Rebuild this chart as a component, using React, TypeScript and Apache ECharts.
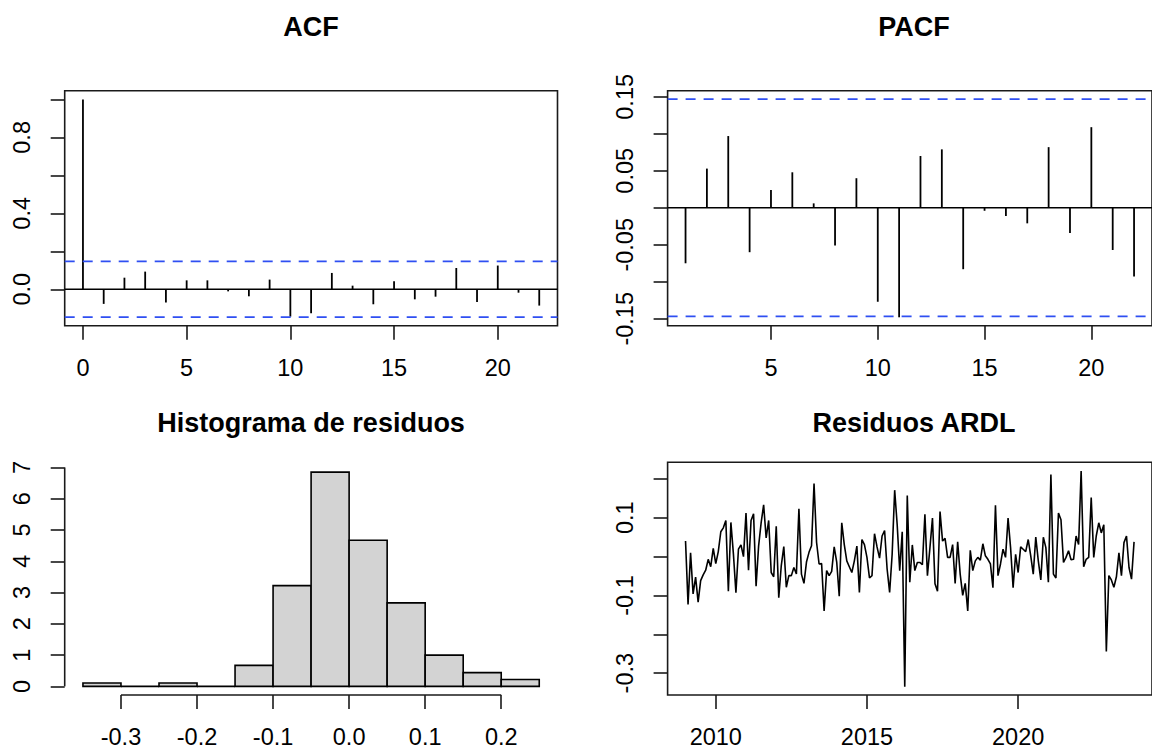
import React, { useEffect, useRef } from "react";
import * as echarts from "echarts";

// ---------- data ----------
const acfLags = [0, 1, 2, 3, 4, 5, 6, 7, 8, 9, 10, 11, 12, 13, 14, 15, 16, 17, 18, 19, 20, 21, 22];
const acfValues = [1.0, -0.077, 0.061, 0.093, -0.07, 0.047, 0.047, -0.011, -0.037, 0.051, -0.144, -0.126,
  0.086, 0.019, -0.079, 0.042, -0.053, -0.039, 0.112, -0.067, 0.125, -0.018, -0.086];
const acfCI = 0.1465;

const pacfLags = [1, 2, 3, 4, 5, 6, 7, 8, 9, 10, 11, 12, 13, 14, 15, 16, 17, 18, 19, 20, 21, 22];
const pacfValues = [-0.075, 0.053, 0.097, -0.06, 0.024, 0.048, 0.006, -0.051, 0.04, -0.127, -0.148, 0.07,
  0.079, -0.083, -0.004, -0.011, -0.021, 0.082, -0.034, 0.109, -0.057, -0.093];
const pacfCI = 0.1468;

const histBreaks = [-0.35, -0.3, -0.25, -0.2, -0.15, -0.1, -0.05, 0.0, 0.05, 0.1, 0.15, 0.2, 0.25];
const histDensity = [0.11, 0, 0.11, 0, 0.67, 3.22, 6.85, 4.67, 2.67, 1.0, 0.44, 0.22];

const residStartYear = 2009;
const residStartMonth = 1;
const residValues = [
  0.040, -0.123, 0.010, -0.096, -0.053, -0.117, -0.062, -0.047, -0.035, -0.007,
  -0.026, 0.021, -0.018, 0.013, 0.064, 0.074, 0.093, -0.089, 0.088, 0.007,
  -0.093, 0.019, 0.030, 0.000, 0.112, -0.035, 0.093, 0.110, -0.076, 0.027,
  0.087, 0.133, 0.048, 0.093, -0.041, -0.052, 0.078, -0.106, -0.023, 0.026,
  -0.079, -0.049, -0.049, -0.028, -0.045, 0.123, -0.045, -0.069, -0.014, 0.011,
  0.028, 0.188, 0.037, -0.019, -0.018, -0.140, -0.036, -0.049, -0.038, 0.025,
  -0.014, -0.102, 0.087, 0.031, -0.011, -0.026, -0.041, -0.011, 0.027, -0.092,
  0.044, 0.031, -0.002, -0.055, -0.049, 0.059, 0.025, -0.004, 0.053, 0.067,
  -0.032, -0.092, 0.006, 0.171, 0.082, -0.036, 0.064, -0.335, 0.157, -0.066,
  0.030, -0.036, -0.015, -0.015, -0.021, 0.109, -0.049, 0.023, 0.099, -0.070,
  -0.089, 0.116, 0.040, 0.047, -0.002, -0.002, 0.031, -0.069, 0.038, -0.045,
  -0.100, -0.069, -0.140, 0.016, -0.036, -0.011, -0.002, -0.009, 0.033, 0.002,
  -0.007, -0.019, -0.080, 0.132, -0.049, -0.019, 0.019, -0.002, 0.099, 0.023,
  -0.080, 0.006, -0.041, 0.025, 0.019, 0.013, 0.044, 0.002, -0.045, 0.050,
  -0.011, -0.060, 0.050, 0.023, -0.066, 0.211, -0.045, -0.055, 0.112, 0.095,
  -0.015, -0.002, 0.015, -0.008, -0.007, 0.053, 0.031, 0.220, -0.026, -0.007,
  -0.002, 0.152, -0.002, 0.053, 0.087, 0.061, 0.082, -0.244, -0.049, -0.060,
  -0.079, -0.052, 0.010, -0.049, 0.036, 0.053, -0.028, -0.058, 0.038,
];

// tick / label values
const acfXTicks = [0, 5, 10, 15, 20];
const acfYTicks = [0, 0.2, 0.4, 0.6, 0.8, 1.0];
const acfYLabels = [0, 0.4, 0.8];
const pacfXTicks = [5, 10, 15, 20];
const pacfYTicks = [-0.15, -0.1, -0.05, 0, 0.05, 0.1, 0.15];
const pacfYLabels = [-0.15, -0.05, 0.05, 0.15];
const histXTicks = [-0.3, -0.2, -0.1, 0.0, 0.1, 0.2];
const histYTicks = [0, 1, 2, 3, 4, 5, 6, 7];
const residXTicks = [2010, 2015, 2020];
const residYTicks = [-0.3, -0.2, -0.1, 0, 0.1, 0.2];
const residYLabels = [-0.3, -0.1, 0.1];

const titles = ["ACF", "PACF", "Histograma de residuos", "Residuos ARDL"];

// ---------- styling / layout ----------
const FONT = "'Liberation Sans', Arial, Helvetica, sans-serif";
const INK = "#1a1a1a";
const LABEL_SIZE = 23.5;
const LEFT_X = 64.7;
const RIGHT_X = 667.6;
const PLOT_W = 492.8;
const TOP_Y = 90.7;
const TOP_H = 235.1;
const BOT_Y = 462.3;
const BOT_H = 235.4;

const ranges = {
  acfX: [-0.88, 22.88],
  acfY: [-0.1924, 1.0459],
  pacfX: [0.16, 22.84],
  pacfY: [-0.1595, 0.1583],
  histX: [-0.374, 0.274],
  histY: [-0.2756, 7.164],
  residX: [2008.407, 2024.427],
  residY: [-0.3562, 0.2427],
};

function xAxis(grid: number, r: number[], ticks: number[], labels: number[], fmt: (v: number) => string) {
  return {
    type: "value",
    gridIndex: grid,
    position: "bottom",
    min: r[0],
    max: r[1],
    axisLine: { show: false, onZero: false },
    splitLine: { show: false },
    axisTick: { show: true, customValues: ticks, length: 14, lineStyle: { color: INK, width: 1.6 } },
    axisLabel: {
      show: true,
      customValues: labels,
      formatter: (v: number) => fmt(v),
      margin: 30,
      color: "#000",
      fontSize: LABEL_SIZE,
      fontFamily: FONT,
    },
  };
}

function yAxis(grid: number, r: number[], ticks: number[], labels: number[], fmt: (v: number) => string) {
  return {
    type: "value",
    gridIndex: grid,
    position: "left",
    min: r[0],
    max: r[1],
    axisLine: { show: false, onZero: false },
    splitLine: { show: false },
    axisTick: { show: true, customValues: ticks, length: 14, lineStyle: { color: INK, width: 1.6 } },
    axisLabel: {
      show: true,
      customValues: labels,
      formatter: (v: number) => fmt(v),
      rotate: 90,
      margin: 31,
      color: "#000",
      fontSize: LABEL_SIZE,
      fontFamily: FONT,
    },
  };
}

function spikeSeries(axisIdx: number, lags: number[], vals: number[]) {
  return {
    type: "custom",
    xAxisIndex: axisIdx,
    yAxisIndex: axisIdx,
    data: lags.map((l, i) => [l, vals[i]]),
    renderItem: (params: any, api: any) => {
      const p0 = api.coord([api.value(0), 0]);
      const p1 = api.coord([api.value(0), api.value(1)]);
      return {
        type: "line",
        shape: { x1: p0[0], y1: p0[1], x2: p1[0], y2: p1[1] },
        style: { stroke: "#000", lineWidth: 1.8 },
      };
    },
    z: 3,
  };
}

function hLine(axisIdx: number, xr: number[], y: number, dashed: boolean) {
  return {
    type: "line",
    xAxisIndex: axisIdx,
    yAxisIndex: axisIdx,
    data: [[xr[0], y], [xr[1], y]],
    showSymbol: false,
    symbol: "none",
    silent: true,
    lineStyle: dashed
      ? { color: "#2f4ff2", width: 1.7, type: [10, 8] }
      : { color: "#000", width: 1.6 },
    z: dashed ? 4 : 2,
  };
}

function buildOption() {
  const residData = residValues.map((v, i) => [residStartYear + (residStartMonth - 1 + i) / 12, v]);
  const histData = histDensity.map((d, i) => [histBreaks[i], histBreaks[i + 1], d]);

  return {
    animation: false,
    backgroundColor: "#fff",
    title: titles.map((t, i) => ({
      text: t,
      left: i % 2 === 0 ? LEFT_X + PLOT_W / 2 : RIGHT_X + PLOT_W / 2,
      top: i < 2 ? 13.7 : 409.7,
      textAlign: "center",
      padding: 0,
      textStyle: { fontSize: 27, fontWeight: "bold", fontFamily: FONT, color: "#000" },
    })),
    grid: [
      { left: LEFT_X, top: TOP_Y, width: PLOT_W, height: TOP_H, show: true, borderColor: INK, borderWidth: 1.6, backgroundColor: "transparent" },
      { left: RIGHT_X, top: TOP_Y, width: PLOT_W, height: TOP_H, show: true, borderColor: INK, borderWidth: 1.6, backgroundColor: "transparent" },
      { left: LEFT_X, top: BOT_Y, width: PLOT_W, height: BOT_H, show: false },
      { left: RIGHT_X, top: BOT_Y, width: PLOT_W, height: BOT_H, show: true, borderColor: INK, borderWidth: 1.6, backgroundColor: "transparent" },
    ],
    xAxis: [
      xAxis(0, ranges.acfX, acfXTicks, acfXTicks, (v) => String(v)),
      xAxis(1, ranges.pacfX, pacfXTicks, pacfXTicks, (v) => String(v)),
      xAxis(2, ranges.histX, histXTicks, histXTicks, (v) => v.toFixed(1)),
      xAxis(3, ranges.residX, residXTicks, residXTicks, (v) => String(Math.round(v))),
    ],
    yAxis: [
      yAxis(0, ranges.acfY, acfYTicks, acfYLabels, (v) => v.toFixed(1)),
      yAxis(1, ranges.pacfY, pacfYTicks, pacfYLabels, (v) => v.toFixed(2)),
      yAxis(2, ranges.histY, histYTicks, histYTicks, (v) => String(Math.round(v))),
      yAxis(3, ranges.residY, residYTicks, residYLabels, (v) => v.toFixed(1)),
    ],
    series: [
      // ACF
      hLine(0, ranges.acfX, 0, false),
      spikeSeries(0, acfLags, acfValues),
      hLine(0, ranges.acfX, acfCI, true),
      hLine(0, ranges.acfX, -acfCI, true),
      // PACF
      hLine(1, ranges.pacfX, 0, false),
      spikeSeries(1, pacfLags, pacfValues),
      hLine(1, ranges.pacfX, pacfCI, true),
      hLine(1, ranges.pacfX, -pacfCI, true),
      // Histogram bars
      {
        type: "custom",
        xAxisIndex: 2,
        yAxisIndex: 2,
        data: histData,
        encode: { x: [0, 1], y: 2 },
        clip: false,
        renderItem: (params: any, api: any) => {
          const p0 = api.coord([api.value(0), api.value(2)]);
          const p1 = api.coord([api.value(1), 0]);
          return {
            type: "rect",
            shape: { x: p0[0], y: p0[1], width: p1[0] - p0[0], height: p1[1] - p0[1] },
            style: { fill: "#d3d3d3", stroke: "#000", lineWidth: 1.6 },
          };
        },
      },
      // Histogram axis lines (from first to last tick, as R draws them)
      {
        type: "line",
        xAxisIndex: 2,
        yAxisIndex: 2,
        data: [[histXTicks[0], ranges.histY[0]], [histXTicks[histXTicks.length - 1], ranges.histY[0]]],
        showSymbol: false,
        symbol: "none",
        clip: false,
        silent: true,
        lineStyle: { color: INK, width: 1.6 },
      },
      {
        type: "line",
        xAxisIndex: 2,
        yAxisIndex: 2,
        data: [[ranges.histX[0], histYTicks[0]], [ranges.histX[0], histYTicks[histYTicks.length - 1]]],
        showSymbol: false,
        symbol: "none",
        clip: false,
        silent: true,
        lineStyle: { color: INK, width: 1.6 },
      },
      // Residuals
      {
        type: "line",
        xAxisIndex: 3,
        yAxisIndex: 3,
        data: residData,
        showSymbol: false,
        symbol: "none",
        silent: true,
        lineStyle: { color: "#000", width: 1.6 },
      },
    ],
  };
}

export default function App() {
  const ref = useRef<HTMLDivElement>(null);
  useEffect(() => {
    document.body.style.margin = "0";
    const chart = echarts.init(ref.current as HTMLDivElement, null, { renderer: "svg" });
    chart.setOption(buildOption() as any);
    return () => chart.dispose();
  }, []);
  return (
    <div
      ref={ref}
      style={{ position: "fixed", left: 0, top: 0, width: 1152, height: 749, background: "#fff", overflow: "hidden" }}
    />
  );
}
